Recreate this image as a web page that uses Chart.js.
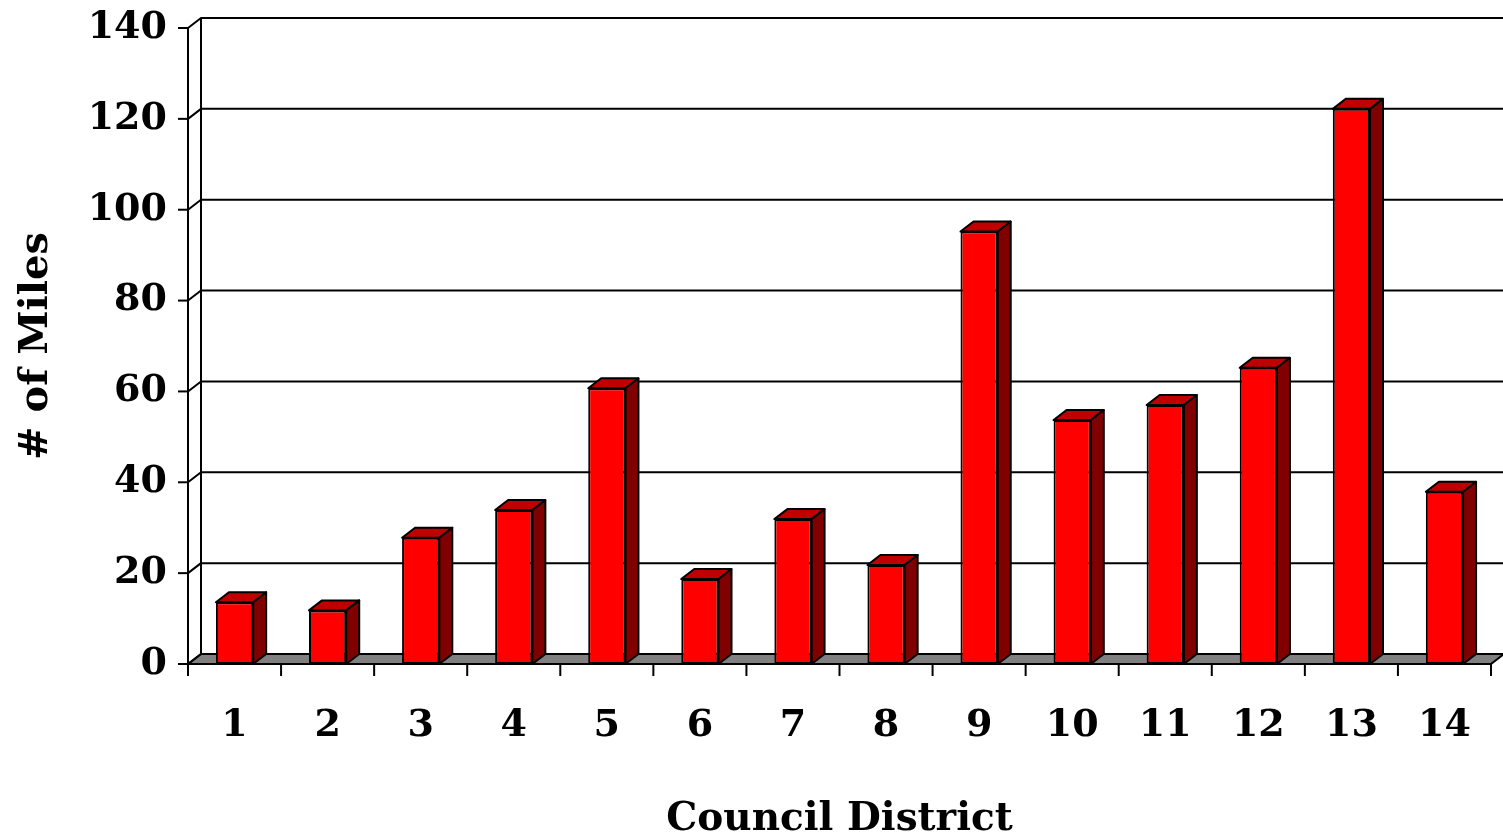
<!DOCTYPE html>
<html><head><meta charset="utf-8">
<script src="https://cdn.jsdelivr.net/npm/chart.js@4/dist/chart.umd.min.js"></script>
<style>html,body{margin:0;padding:0;background:#fff;overflow:hidden}#wrap{width:1503px;height:834px;position:relative}</style>
</head><body><div id="wrap"><canvas id="c" width="1503" height="834"></canvas></div>
<script>
const categories = ['1','2','3','4','5','6','7','8','9','10','11','12','13','14'];
const miles = [13.6, 11.8, 27.8, 33.9, 60.7, 18.7, 31.9, 21.8, 95.2, 53.7, 57.0, 65.2, 122.2, 37.9];
const yTicks = [0, 20, 40, 60, 80, 100, 120, 140];
const xTitle = 'Council District';
const yTitle = '# of Miles';

const DX = 13, DY = -10;
const FONT = "'DejaVu Serif', 'Liberation Serif', serif";

function poly(ctx, pts, fill) {
  ctx.beginPath();
  ctx.moveTo(pts[0][0], pts[0][1]);
  for (let i = 1; i < pts.length; i++) ctx.lineTo(pts[i][0], pts[i][1]);
  ctx.closePath();
  if (fill) { ctx.fillStyle = fill; ctx.fill(); }
  ctx.stroke();
}

const plugin3d = {
  id: 'threeD',
  beforeDatasetsDraw(chart) {
    const { ctx, chartArea: a, scales: { x, y } } = chart;
    ctx.save();
    ctx.lineWidth = 2; ctx.strokeStyle = '#000'; ctx.lineJoin = 'round';
    poly(ctx, [[a.left, a.bottom], [a.right, a.bottom], [a.right + DX, a.bottom + DY], [a.left + DX, a.bottom + DY]], '#808080');
    yTicks.forEach(v => {
      const py = y.getPixelForValue(v);
      ctx.beginPath();
      ctx.moveTo(a.left, py); ctx.lineTo(a.left + DX, py + DY);
      if (v > 0) ctx.lineTo(chart.width, py + DY);
      ctx.stroke();
      ctx.beginPath(); ctx.moveTo(a.left - 10, py); ctx.lineTo(a.left, py); ctx.stroke();
    });
    ctx.beginPath();
    ctx.moveTo(a.left + DX, y.getPixelForValue(yTicks[yTicks.length - 1]) + DY);
    ctx.lineTo(a.left + DX, a.bottom + DY); ctx.stroke();
    ctx.beginPath(); ctx.moveTo(a.left, a.top); ctx.lineTo(a.left, a.bottom); ctx.stroke();
    const n = categories.length;
    for (let i = 0; i <= n; i++) {
      let px;
      if (i === 0) px = a.left; else if (i === n) px = a.right;
      else px = (x.getPixelForValue(i - 1) + x.getPixelForValue(i)) / 2;
      ctx.beginPath(); ctx.moveTo(px, a.bottom); ctx.lineTo(px, a.bottom + 12); ctx.stroke();
    }
    ctx.restore();
  },
  afterDatasetsDraw(chart) {
    const { ctx } = chart;
    ctx.save();
    ctx.lineWidth = 2; ctx.strokeStyle = '#000'; ctx.lineJoin = 'round';
    chart.getDatasetMeta(0).data.forEach(bar => {
      const p = bar.getProps(['x', 'y', 'base', 'width'], true);
      const l = p.x - p.width / 2, r = p.x + p.width / 2, t = p.y, b = p.base;
      poly(ctx, [[l, t], [r, t], [r + DX, t + DY], [l + DX, t + DY]], '#c00000');
      poly(ctx, [[r, t], [r + DX, t + DY], [r + DX, b + DY], [r, b]], '#800000');
    });
    ctx.restore();
  }
};

new Chart(document.getElementById('c'), {
  type: 'bar',
  data: {
    labels: categories,
    datasets: [{
      data: miles,
      backgroundColor: '#ff0000',
      borderColor: '#000000',
      borderWidth: 2,
      borderSkipped: false,
      barPercentage: 0.4,
      categoryPercentage: 1.0
    }]
  },
  options: {
    responsive: false,
    animation: false,
    layout: { padding: { top: 28, right: 12, left: 0, bottom: 0 } },
    plugins: { legend: { display: false }, tooltip: { enabled: false } },
    scales: {
      x: {
        grid: { display: false, drawTicks: false },
        border: { display: false },
        ticks: { color: '#000', padding: 39, font: { family: FONT, size: 38, weight: 'bold' }, maxRotation: 0 },
        title: { display: true, text: xTitle, color: '#000', font: { family: FONT, size: 39, weight: 'bold' }, padding: { top: -9, bottom: -9 } },
        afterFit(s) { s.height = 170; s.paddingLeft = 0; s.paddingRight = 0; }
      },
      y: {
        min: 0, max: 140,
        grid: { display: false, drawTicks: false },
        border: { display: false },
        ticks: { stepSize: 20, color: '#000', padding: 21, font: { family: FONT, size: 38, weight: 'bold' } },
        title: { display: true, text: yTitle, color: '#000', font: { family: FONT, size: 40, weight: 'bold' }, padding: { top: 13, bottom: 0 } },
        afterFit(s) { s.width = 188; s.paddingTop = 0; s.paddingBottom = 0; }
      }
    }
  },
  plugins: [plugin3d]
});
</script></body></html>
